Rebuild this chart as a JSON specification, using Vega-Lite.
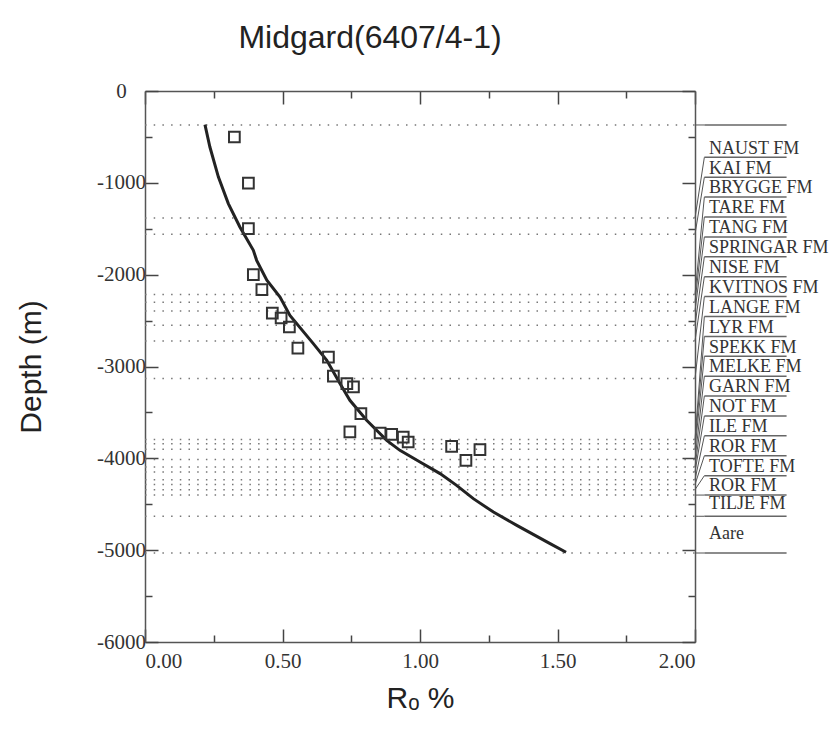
{
  "$schema": "https://vega.github.io/schema/vega-lite/v6.json",
  "autosize": "none",
  "width": 550,
  "height": 551,
  "padding": {"left": 145, "top": 91, "right": 139, "bottom": 92},
  "background": "white",
  "title": {"text": "Midgard(6407/4-1)", "font": "Liberation Sans", "fontSize": 32, "fontWeight": "normal", "color": "#222", "anchor": "middle", "dx": -50, "offset": 25},
  "config": {
    "view": {"stroke": null},
    "axis": {"grid": false, "domainColor": "#555", "domainWidth": 1.5, "tickColor": "#444", "tickWidth": 1.5, "labelFont": "Liberation Serif", "labelFontSize": 21, "labelColor": "#333", "titleFont": "Liberation Sans", "titleFontSize": 30, "titleFontWeight": "normal", "titleColor": "#222"}
  },
  "datasets": {
    "formations": [
      {"name": "", "bottom": -370, "labelLine": -370, "textDepth": -330},
      {"name": "NAUST FM", "bottom": -1383, "labelLine": -722, "textDepth": -682},
      {"name": "KAI FM", "bottom": -1560, "labelLine": -939, "textDepth": -899},
      {"name": "BRYGGE FM", "bottom": -2217, "labelLine": -1155, "textDepth": -1115},
      {"name": "TARE FM", "bottom": -2301, "labelLine": -1372, "textDepth": -1332},
      {"name": "TANG FM", "bottom": -2396, "labelLine": -1589, "textDepth": -1549},
      {"name": "SPRINGAR FM", "bottom": -2551, "labelLine": -1805, "textDepth": -1765},
      {"name": "NISE FM", "bottom": -2722, "labelLine": -2022, "textDepth": -1982},
      {"name": "KVITNOS FM", "bottom": -3132, "labelLine": -2239, "textDepth": -2199},
      {"name": "LANGE FM", "bottom": -3796, "labelLine": -2455, "textDepth": -2415},
      {"name": "LYR FM", "bottom": -3840, "labelLine": -2672, "textDepth": -2632},
      {"name": "SPEKK FM", "bottom": -3902, "labelLine": -2889, "textDepth": -2849},
      {"name": "MELKE FM", "bottom": -4014, "labelLine": -3105, "textDepth": -3065},
      {"name": "GARN FM", "bottom": -4094, "labelLine": -3322, "textDepth": -3282},
      {"name": "NOT FM", "bottom": -4149, "labelLine": -3539, "textDepth": -3499},
      {"name": "ILE FM", "bottom": -4232, "labelLine": -3755, "textDepth": -3715},
      {"name": "ROR FM", "bottom": -4286, "labelLine": -3972, "textDepth": -3932},
      {"name": "TOFTE FM", "bottom": -4341, "labelLine": -4189, "textDepth": -4149},
      {"name": "ROR FM", "bottom": -4400, "labelLine": -4400, "textDepth": -4360},
      {"name": "TILJE FM", "bottom": -4631, "labelLine": -4631, "textDepth": -4555},
      {"name": "Aare", "bottom": -5031, "labelLine": -5031, "textDepth": -4882}
    ],
    "curve": [
      {"ro": 0.218, "depth": -366},
      {"ro": 0.236, "depth": -610},
      {"ro": 0.267, "depth": -937},
      {"ro": 0.303, "depth": -1226},
      {"ro": 0.345, "depth": -1481},
      {"ro": 0.394, "depth": -1735},
      {"ro": 0.406, "depth": -1844},
      {"ro": 0.443, "depth": -2061},
      {"ro": 0.491, "depth": -2243},
      {"ro": 0.527, "depth": -2443},
      {"ro": 0.612, "depth": -2751},
      {"ro": 0.661, "depth": -2932},
      {"ro": 0.709, "depth": -3186},
      {"ro": 0.745, "depth": -3368},
      {"ro": 0.806, "depth": -3586},
      {"ro": 0.879, "depth": -3804},
      {"ro": 0.927, "depth": -3913},
      {"ro": 1.0, "depth": -4040},
      {"ro": 1.073, "depth": -4166},
      {"ro": 1.133, "depth": -4294},
      {"ro": 1.194, "depth": -4439},
      {"ro": 1.267, "depth": -4585},
      {"ro": 1.352, "depth": -4730},
      {"ro": 1.473, "depth": -4929},
      {"ro": 1.531, "depth": -5023}
    ],
    "samples": [
      {"ro": 0.325, "depth": -501},
      {"ro": 0.376, "depth": -1002},
      {"ro": 0.376, "depth": -1499},
      {"ro": 0.394, "depth": -2000},
      {"ro": 0.425, "depth": -2163},
      {"ro": 0.463, "depth": -2418},
      {"ro": 0.495, "depth": -2472},
      {"ro": 0.525, "depth": -2570},
      {"ro": 0.556, "depth": -2799},
      {"ro": 0.667, "depth": -2897},
      {"ro": 0.685, "depth": -3104},
      {"ro": 0.734, "depth": -3186},
      {"ro": 0.758, "depth": -3223},
      {"ro": 0.785, "depth": -3513},
      {"ro": 0.745, "depth": -3713},
      {"ro": 0.855, "depth": -3724},
      {"ro": 0.897, "depth": -3738},
      {"ro": 0.939, "depth": -3768},
      {"ro": 0.957, "depth": -3822},
      {"ro": 1.115, "depth": -3869},
      {"ro": 1.167, "depth": -4022},
      {"ro": 1.218, "depth": -3905}
    ]
  },
  "layer": [
    {
      "data": {"name": "formations"},
      "mark": {"type": "rule", "color": "#777", "strokeWidth": 1.5, "strokeDash": [1.5, 7.2]},
      "encoding": {
        "y": {"field": "bottom", "type": "quantitative", "scale": {"domain": [-6000, 0], "nice": false, "zero": false}, "axis": null},
        "x": {"datum": 0, "type": "quantitative", "scale": {"domain": [0, 2], "nice": false, "zero": false}, "axis": null},
        "x2": {"datum": 2}
      }
    },
    {
      "data": {"name": "curve"},
      "mark": {"type": "line", "color": "#222", "strokeWidth": 3},
      "encoding": {
        "x": {"field": "ro", "type": "quantitative", "axis": {"orient": "top", "values": [0, 0.25, 0.5, 0.75, 1, 1.25, 1.5, 1.75, 2], "labels": false, "title": null, "tickSize": {"condition": {"test": "datum.value % 0.5 === 0", "value": -13}, "value": -7}}},
        "y": {"field": "depth", "type": "quantitative", "axis": {"orient": "right", "values": [0, -500, -1000, -1500, -2000, -2500, -3000, -3500, -4000, -4500, -5000, -5500, -6000], "labels": false, "title": null, "tickSize": {"condition": {"test": "datum.value % 1000 === 0", "value": -13}, "value": -7}}},
        "order": {"field": "depth", "sort": "descending"}
      }
    },
    {
      "data": {"name": "samples"},
      "mark": {"type": "point", "shape": "square", "filled": false, "stroke": "#333", "strokeWidth": 2, "size": 115, "opacity": 1},
      "encoding": {
        "x": {"field": "ro", "type": "quantitative", "axis": {"orient": "bottom", "values": [0, 0.25, 0.5, 0.75, 1, 1.25, 1.5, 1.75, 2], "format": ".2f", "labelExpr": "datum.value % 0.5 === 0 ? datum.label : ''", "tickSize": {"condition": {"test": "datum.value % 0.5 === 0", "value": -13}, "value": -7}, "labelPadding": 21, "title": "Rₒ %", "titlePadding": 12}},
        "y": {"field": "depth", "type": "quantitative", "axis": {"orient": "left", "values": [0, -500, -1000, -1500, -2000, -2500, -3000, -3500, -4000, -4500, -5000, -5500, -6000], "labelExpr": "datum.value % 1000 === 0 ? '' + datum.value : ''", "tickSize": {"condition": {"test": "datum.value % 1000 === 0", "value": -13}, "value": -7}, "labelAlign": "center", "labelPadding": 37, "title": "Depth (m)", "titlePadding": 50}}
      }
    },
    {
      "data": {"name": "formations"},
      "mark": {"type": "rule", "color": "#555", "strokeWidth": 1},
      "encoding": {
        "x": {"datum": 2, "type": "quantitative", "axis": null},
        "x2": {"datum": 2.034},
        "y": {"field": "bottom", "type": "quantitative", "axis": null},
        "y2": {"field": "labelLine"}
      }
    },
    {
      "data": {"name": "formations"},
      "mark": {"type": "rule", "color": "#666", "strokeWidth": 1.5},
      "encoding": {
        "x": {"datum": 2.034, "type": "quantitative", "axis": null},
        "x2": {"datum": 2.333},
        "y": {"field": "labelLine", "type": "quantitative", "axis": null}
      }
    },
    {
      "data": {"name": "formations"},
      "mark": {"type": "text", "align": "left", "baseline": "alphabetic", "font": "Liberation Serif", "fontSize": 18, "color": "#333"},
      "encoding": {
        "x": {"datum": 2.051, "type": "quantitative", "axis": null},
        "y": {"field": "textDepth", "type": "quantitative", "axis": null},
        "text": {"field": "name"}
      }
    }
  ]
}
